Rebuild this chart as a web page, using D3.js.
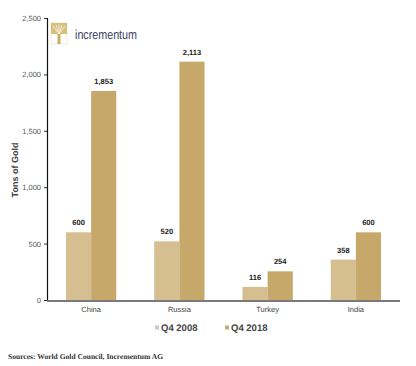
<!DOCTYPE html>
<html>
<head>
<meta charset="utf-8">
<script src="https://cdn.jsdelivr.net/npm/d3@7"></script>
<style>
  body { margin: 0; background: #fff; }
  svg { display: block; }
  text { text-rendering: geometricPrecision; }
</style>
</head>
<body>
<div id="chart"></div>
<script>
// chart data
var countries = ["China", "Russia", "Turkey", "India"];
var seriesNames = ["Q4 2008", "Q4 2018"];
var q4_2008 = [600, 520, 116, 358];
var q4_2018 = [1853, 2113, 254, 600];
var yTicks = [0, 500, 1000, 1500, 2000, 2500];

var width = 416, height = 366;
var margin = { top: 18, right: 16, bottom: 66, left: 47 };
var colors = ["#d5be8f", "#c6a96a"];
var legendColors = ["#cbcbc3", "#b5b27e"];

var svg = d3.select("#chart").append("svg")
    .attr("width", width)
    .attr("height", height);

var plotW = width - margin.left - margin.right;
var plotH = 300 - margin.top;

var x = d3.scaleBand().domain(countries).range([0, plotW]).paddingInner(0.43).paddingOuter(0.215);
var xSub = d3.scaleBand().domain(seriesNames).range([0, x.bandwidth()]);
var y = d3.scaleLinear().domain([0, 2500]).range([plotH, 0]);

var g = svg.append("g").attr("transform", "translate(" + margin.left + "," + margin.top + ")");

// bars
var rows = countries.map(function (c, i) {
    return { country: c, values: [q4_2008[i], q4_2018[i]] };
});

var groups = g.selectAll(".grp").data(rows).enter().append("g")
    .attr("class", "grp")
    .attr("transform", function (d) { return "translate(" + x(d.country) + ",0)"; });

groups.selectAll("rect").data(function (d) {
    return d.values.map(function (v, i) { return { s: seriesNames[i], v: v, i: i }; });
}).enter().append("rect")
    .attr("x", function (d) { return xSub(d.s); })
    .attr("y", function (d) { return y(d.v); })
    .attr("width", xSub.bandwidth())
    .attr("height", function (d) { return plotH - y(d.v); })
    .attr("fill", function (d) { return colors[d.i]; });

groups.selectAll("text.val").data(function (d) {
    return d.values.map(function (v, i) { return { s: seriesNames[i], v: v }; });
}).enter().append("text")
    .attr("class", "val")
    .attr("x", function (d) { return xSub(d.s) + xSub.bandwidth() / 2; })
    .attr("y", function (d) { return y(d.v) - 7; })
    .attr("text-anchor", "middle")
    .style("font-family", "Arial, 'Liberation Sans', sans-serif")
    .style("font-size", "7.5px")
    .style("font-weight", "bold")
    .style("fill", "#222")
    .text(function (d) { return d3.format(",")(d.v); });

// y axis
var yAxis = d3.axisLeft(y).tickValues(yTicks).tickSize(3).tickPadding(3).tickFormat(d3.format(","));
var yg = g.append("g").call(yAxis);
yg.select(".domain").attr("stroke", "#111").attr("stroke-width", 1.2);
yg.selectAll(".tick line").attr("stroke", "#333");
yg.selectAll(".tick text")
    .style("font-family", "Arial, 'Liberation Sans', sans-serif")
    .style("font-size", "7.5px")
    .style("fill", "#555");

// baseline
g.append("line")
    .attr("x1", 0).attr("x2", plotW)
    .attr("y1", plotH + 1).attr("y2", plotH + 1)
    .attr("stroke", "#7a7a7a")
    .attr("stroke-width", 2);

// x labels
g.selectAll(".xl").data(countries).enter().append("text")
    .attr("class", "xl")
    .attr("x", function (d) { return x(d) + x.bandwidth() / 2; })
    .attr("y", plotH + 12)
    .attr("text-anchor", "middle")
    .style("font-family", "Arial, 'Liberation Sans', sans-serif")
    .style("font-size", "7.5px")
    .style("fill", "#444")
    .text(function (d) { return d; });

// y label
svg.append("text")
    .attr("transform", "translate(18,170) rotate(-90)")
    .attr("text-anchor", "middle")
    .style("font-family", "Arial, 'Liberation Sans', sans-serif")
    .style("font-size", "9px")
    .style("font-weight", "bold")
    .style("fill", "#444")
    .text("Tons of Gold");

// legend
var legend = svg.selectAll(".leg").data(seriesNames).enter().append("g")
    .attr("class", "leg")
    .attr("transform", function (d, i) { return "translate(" + (155 + i * 70) + ",331)"; });
legend.append("rect").attr("x", 0).attr("y", -5.5).attr("width", 4).attr("height", 4)
    .attr("fill", function (d, i) { return legendColors[i]; });
legend.append("text").attr("x", 6).attr("y", 0)
    .style("font-family", "Arial, 'Liberation Sans', sans-serif")
    .style("font-size", "9.5px")
    .style("font-weight", "bold")
    .style("fill", "#444")
    .text(function (d) { return d; });

// source
svg.append("text")
    .attr("x", 8).attr("y", 359)
    .attr("textLength", 155)
    .attr("lengthAdjust", "spacingAndGlyphs")
    .style("font-family", "'Liberation Serif', 'DejaVu Serif', serif")
    .style("font-size", "7.5px")
    .style("font-weight", "bold")
    .style("fill", "#333")
    .text("Sources: World Gold Council, Incrementum AG");

// logo
var logo = svg.append("g").attr("transform", "translate(51,23)");
logo.append("rect").attr("width", 16).attr("height", 21).attr("fill", "#fff").attr("stroke", "#e4dcc8").attr("stroke-width", 0.6);
logo.append("rect").attr("x", 0).attr("y", 0).attr("width", 16).attr("height", 11).attr("fill", "#d6c07c");
logo.append("rect").attr("x", 6.5).attr("y", 8).attr("width", 3).attr("height", 13).attr("fill", "#c9ad5e");
[[2, 3], [5, 2], [8, 1.5], [11, 2], [14, 3]].forEach(function (p) {
    logo.append("line").attr("x1", 8).attr("y1", 11).attr("x2", p[0]).attr("y2", p[1])
        .attr("stroke", "#fff").attr("stroke-width", 0.7);
});
svg.append("text")
    .attr("x", 75).attr("y", 38.5)
    .attr("textLength", 62)
    .attr("lengthAdjust", "spacingAndGlyphs")
    .style("font-family", "Arial, 'Liberation Sans', sans-serif")
    .style("font-size", "13px")
    .style("fill", "#3c4263")
    .text("incrementum");
</script>
</body>
</html>
